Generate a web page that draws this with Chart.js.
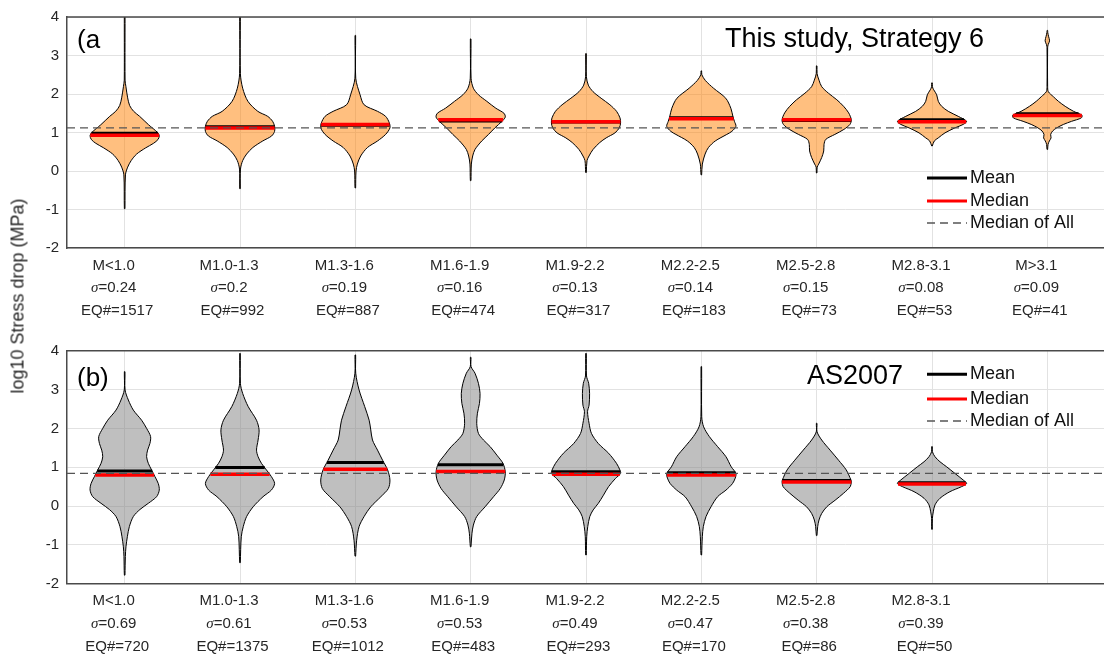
<!DOCTYPE html>
<html>
<head>
<meta charset="utf-8">
<script src="https://cdn.jsdelivr.net/npm/chart.js@4/dist/chart.umd.min.js"></script>
<style>
  html, body { margin: 0; padding: 0; background: #fff; overflow: hidden; }
  #wrap { position: relative; width: 1104px; height: 657px; overflow: hidden; background: #fff; }
  canvas { position: absolute; left: 0; }
  #cA { top: 0; }
  #cB { top: 330px; }
  #ylab {
    position: absolute; left: 18px; top: 296px;
    transform: translate(-50%, -50%) rotate(-90deg);
    font: 18px "Liberation Sans", Arial, sans-serif; color: #262626; white-space: nowrap;
  }
</style>
</head>
<body>
<div id="wrap">
  <canvas id="cA" width="1106" height="330"></canvas>
  <canvas id="cB" width="1106" height="327"></canvas>
  <div id="ylab">log10 Stress drop (MPa)</div>
</div>
<script>
// Magnitude bins
const CATEGORIES = ['M<1.0', 'M1.0-1.3', 'M1.3-1.6', 'M1.6-1.9', 'M1.9-2.2', 'M2.2-2.5', 'M2.5-2.8', 'M2.8-3.1', 'M>3.1'];

// (a) This study, Strategy 6
const SIGMA_A = [0.24, 0.2, 0.19, 0.16, 0.13, 0.14, 0.15, 0.08, 0.09];
const EQ_A = [1517, 992, 887, 474, 317, 183, 73, 53, 41];
const MEAN_A = [0.98, 1.15, 1.19, 1.30, 1.27, 1.38, 1.31, 1.33, 1.49];
const MEDIAN_A = [0.93, 1.12, 1.21, 1.33, 1.28, 1.36, 1.33, 1.28, 1.44];
const MEDIAN_ALL_A = 1.12;
// density profiles: [log10 stress drop, relative density]
const DENSITY_A = [
  [[-0.98,0.3],[-0.1,0.8],[0.1,3],[0.27,6.5],[0.44,12],[0.6,21],[0.72,29],[0.82,33.5],[0.92,34.7],[1.0,33],[1.2,24],[1.42,15],[1.55,9],[1.7,5],[1.9,3],[2.2,1.2],[2.36,0.4],[4.3,0.3]],
  [[-0.46,0.3],[0.05,0.5],[0.27,2.7],[0.44,6.7],[0.61,13],[0.78,23],[0.91,32],[1.03,35],[1.16,35],[1.29,33],[1.42,28],[1.55,18],[1.81,8],[2.15,2.7],[2.53,0.4],[4.3,0.3]],
  [[-0.44,0.3],[0.0,0.7],[0.18,2],[0.39,5.3],[0.61,12],[0.78,22],[0.95,30],[1.12,34.3],[1.25,33.7],[1.42,30],[1.55,22],[1.72,8.7],[1.98,4.7],[2.41,0.4],[3.52,0.3]],
  [[-0.25,0.3],[0.18,0.7],[0.39,2],[0.56,4.3],[0.78,11],[0.95,17.7],[1.12,24],[1.29,31],[1.4,34.3],[1.5,33],[1.63,25],[1.81,16],[1.98,7.7],[2.15,2.7],[2.41,0.4],[3.43,0.3]],
  [[-0.04,0.3],[0.27,1],[0.39,3],[0.56,7],[0.74,13.7],[0.86,20],[0.99,28.7],[1.12,33],[1.25,34.3],[1.38,33.7],[1.55,30.3],[1.72,23.7],[1.89,15],[2.06,7],[2.23,2.3],[2.45,0.4],[3.05,0.3]],
  [[-0.1,0.3],[0.18,1],[0.44,3.7],[0.61,7],[0.78,13.7],[0.95,25],[1.03,30],[1.16,34],[1.29,32.5],[1.42,31],[1.63,29],[1.89,24],[2.15,12],[2.35,4],[2.5,0.5],[2.6,0.3]],
  [[-0.05,0.3],[0.1,0.5],[0.18,2],[0.35,5],[0.52,7],[0.69,7.3],[0.82,9],[0.95,18],[1.08,27],[1.21,33],[1.33,34.3],[1.51,31.7],[1.68,26.7],[1.85,20],[2.02,11.7],[2.19,5],[2.36,2.3],[2.53,0.4],[2.73,0.3]],
  [[0.65,0.3],[0.78,2.3],[0.86,6.3],[0.99,13],[1.12,23],[1.21,31.3],[1.29,34.7],[1.42,26.3],[1.55,16.3],[1.68,9.7],[1.81,6.3],[1.98,4.7],[2.11,1.7],[2.19,0.4],[2.29,0.3]],
  [[0.56,0.3],[0.69,0.7],[0.78,2],[0.86,3.7],[0.95,3.3],[1.04,5.3],[1.12,9.3],[1.21,16],[1.29,24],[1.38,33.7],[1.45,34.3],[1.55,26],[1.68,17.7],[1.81,11],[1.93,6],[2.06,1],[2.2,0.3],[3.2,0.3],[3.28,0.8],[3.38,2.2],[3.5,1.2],[3.6,0.4],[3.65,0.3]]
];

// (b) AS2007
const SIGMA_B = [0.69, 0.61, 0.53, 0.53, 0.49, 0.47, 0.38, 0.39];
const EQ_B = [720, 1375, 1012, 483, 293, 170, 86, 50];
const MEAN_B = [0.90, 0.99, 1.12, 1.06, 0.88, 0.86, 0.66, 0.60];
const MEDIAN_B = [0.80, 0.82, 0.95, 0.89, 0.82, 0.80, 0.62, 0.57];
const MEDIAN_ALL_B = 0.84;
const DENSITY_B = [
  [[-1.78,0.3],[-1.3,0.7],[-1.05,1.3],[-0.79,2.7],[-0.53,4.7],[-0.27,8.7],[-0.09,15.3],[0.07,23.7],[0.24,32],[0.41,34.7],[0.58,33.7],[0.76,30.3],[0.93,27],[1.1,23.7],[1.27,22],[1.44,23],[1.61,25.3],[1.79,26],[2.0,22],[2.21,17],[2.47,8.7],[2.73,3.7],[2.99,0.4],[3.46,0.3]],
  [[-1.46,0.3],[-0.79,1.3],[-0.53,3.3],[-0.27,6.7],[-0.02,13.3],[0.24,23.3],[0.41,31.7],[0.58,35],[0.76,31.7],[0.93,26.7],[1.1,21.7],[1.27,18.3],[1.44,16.7],[1.7,18.3],[1.96,19.3],[2.21,16.7],[2.56,8.3],[2.9,2.7],[3.16,0.4],[3.93,0.3]],
  [[-1.29,0.3],[-0.88,1.3],[-0.53,3.7],[-0.27,8.7],[-0.02,15.3],[0.24,25.3],[0.45,32.7],[0.67,34.3],[0.93,32],[1.18,27],[1.44,22],[1.7,17],[1.96,15.3],[2.21,13.7],[2.56,9.3],[2.99,3.7],[3.42,0.4],[3.89,0.3]],
  [[-1.05,0.3],[-0.7,1.3],[-0.49,2.7],[-0.27,6],[-0.02,14.3],[0.24,22.7],[0.45,29.3],[0.67,33.3],[0.88,34.3],[1.1,32],[1.31,26],[1.53,19.3],[1.7,12.7],[1.87,7.7],[2.13,6],[2.39,6.7],[2.64,8.7],[2.9,9.3],[3.16,7.7],[3.42,4.3],[3.59,0.4],[3.83,0.3]],
  [[-1.26,0.3],[-0.79,0.7],[-0.53,1.7],[-0.27,3.7],[-0.1,7],[0.07,12],[0.28,17],[0.5,22],[0.71,28.7],[0.84,33.7],[0.93,33],[1.1,29.7],[1.36,22],[1.61,12],[1.87,5.3],[2.13,3],[2.43,1.5],[2.6,3],[2.9,3.5],[3.16,2.6],[3.35,0.5],[3.93,0.3]],
  [[-1.26,0.3],[-0.79,1],[-0.53,2],[-0.27,4.7],[-0.02,9.7],[0.24,16.3],[0.41,24.7],[0.58,31.3],[0.72,34],[0.84,34.7],[1.01,30],[1.27,24.7],[1.53,16.3],[1.79,8],[2.04,2.3],[2.3,0.4],[3.59,0.3]],
  [[-0.76,0.3],[-0.53,1],[-0.36,2.3],[-0.19,5],[-0.02,10],[0.15,18.3],[0.33,26.7],[0.5,33.3],[0.62,34.3],[0.67,34],[0.93,29.3],[1.18,21.7],[1.44,13.3],[1.7,5],[1.91,0.4],[2.13,0.3]],
  [[-0.6,0.3],[-0.32,0.4],[-0.15,1.3],[0.03,3],[0.2,8],[0.37,18],[0.5,29.7],[0.58,34.7],[0.67,31.3],[0.84,23],[1.01,14.7],[1.14,8],[1.27,3],[1.4,0.4],[1.53,0.3]]
];

const FONT = '"Liberation Sans", Arial, Helvetica, sans-serif';
const SERIF = '"Liberation Serif", "DejaVu Serif", serif';
const VIOLIN_HALF = 0.3;   // max half-width of a violin in category units
const TEXT = '#262626';

Chart.defaults.font.family = FONT;

// relative half-width of a violin at a given value
function halfWidthAt(profile, v) {
  const maxW = Math.max(...profile.map(p => p[1]));
  for (let k = 0; k < profile.length - 1; k++) {
    const [y0, w0] = profile[k], [y1, w1] = profile[k + 1];
    if (v >= y0 && v <= y1) {
      const t = (v - y0) / (y1 - y0);
      return VIOLIN_HALF * (w0 + t * (w1 - w0)) / maxW;
    }
  }
  return 0;
}

// frame, titles, legend and multi-line category labels
const decorPlugin = {
  id: 'decor',
  afterDraw(chart, args, o) {
    const { ctx, chartArea: a } = chart;
    const xs = chart.scales.x;
    ctx.save();
    // top and right frame edges
    ctx.strokeStyle = '#4a4a4a';
    ctx.lineWidth = 1.5;
    ctx.beginPath();
    ctx.moveTo(a.left, a.top); ctx.lineTo(a.right, a.top); ctx.lineTo(a.right, a.bottom);
    ctx.stroke();

    // panel titles
    ctx.fillStyle = '#000';
    ctx.textBaseline = 'middle';
    ctx.textAlign = 'left';
    ctx.font = '26px ' + FONT;
    ctx.fillText(o.tag, o.tagX, o.tagY);
    ctx.font = '27px ' + FONT;
    ctx.fillText(o.title, o.titleX, o.titleY);

    // legend
    const rows = [
      { label: 'Mean', color: '#000', width: 3, dash: [] },
      { label: 'Median', color: '#ff0000', width: 3, dash: [] },
      { label: 'Median of All', color: '#555', width: 1.3, dash: [8, 5] }
    ];
    ctx.font = '18px ' + FONT;
    rows.forEach((r, k) => {
      const y = o.legendY[k];
      ctx.strokeStyle = r.color;
      ctx.lineWidth = r.width;
      ctx.setLineDash(r.dash);
      ctx.beginPath();
      ctx.moveTo(o.legendX, y); ctx.lineTo(o.legendX + 40, y);
      ctx.stroke();
      ctx.setLineDash([]);
      ctx.fillStyle = '#111';
      ctx.fillText(r.label, o.legendX + 43, y);
    });

    // category labels: bin, sigma, event count
    o.sigma.forEach((s, i) => {
      const x = xs.getPixelForValue(i + 1);
      const y0 = a.bottom;
      ctx.fillStyle = TEXT;
      ctx.textAlign = 'center';
      ctx.font = '15px ' + FONT;
      ctx.fillText(CATEGORIES[i], x - 11, y0 + 17.5);
      ctx.fillText('EQ#=' + o.eq[i], x - 7.5, y0 + 63);
      ctx.textAlign = 'left';
      ctx.font = 'italic 15px ' + SERIF;
      const wS = ctx.measureText('σ').width;
      ctx.font = '15px ' + FONT;
      const rest = '=' + s;
      const wR = ctx.measureText(rest).width;
      const sx = x - 11 - (wS + wR) / 2;
      ctx.font = 'italic 15px ' + SERIF;
      ctx.fillText('σ', sx, y0 + 40.3);
      ctx.font = '15px ' + FONT;
      ctx.fillText(rest, sx + wS, y0 + 40.3);
    });
    ctx.restore();
  }
};

function makePanel(canvasId, p) {
  const datasets = [];
  p.density.forEach((prof, i) => {
    const c = i + 1;
    const maxW = Math.max(...prof.map(q => q[1]));
    const right = prof.map(([y, w]) => ({ x: c + VIOLIN_HALF * w / maxW, y }));
    const left = prof.slice().reverse().map(([y, w]) => ({ x: c - VIOLIN_HALF * w / maxW, y }));
    datasets.push({
      data: right.concat(left, [right[0]]),
      showLine: true, fill: 'shape', tension: 0.3,
      backgroundColor: p.fill, borderColor: '#000', borderWidth: 1,
      pointRadius: 0, order: 3
    });
    const hm = halfWidthAt(prof, p.mean[i]);
    datasets.push({
      data: [{ x: c - hm, y: p.mean[i] }, { x: c + hm, y: p.mean[i] }],
      showLine: true, borderColor: '#000', borderWidth: 3, pointRadius: 0, order: 2
    });
    const hd = halfWidthAt(prof, p.median[i]);
    datasets.push({
      data: [{ x: c - hd, y: p.median[i] }, { x: c + hd, y: p.median[i] }],
      showLine: true, borderColor: '#ff0000', borderWidth: 3.5, pointRadius: 0, order: 1
    });
  });
  datasets.push({
    data: [{ x: 0.5, y: p.medianAll }, { x: 9.5, y: p.medianAll }],
    showLine: true, borderColor: '#555', borderWidth: 1.3, borderDash: [8, 5],
    pointRadius: 0, order: 0
  });

  const canvas = document.getElementById(canvasId);
  return new Chart(canvas, {
    type: 'scatter',
    data: { datasets },
    options: {
      responsive: false,
      devicePixelRatio: 1,
      animation: false,
      layout: { padding: { top: p.padTop, right: 1, left: 0, bottom: 0 } },
      plugins: {
        legend: { display: false },
        tooltip: { enabled: false },
        decor: p.decor
      },
      scales: {
        x: {
          type: 'linear', min: 0.5, max: 9.5,
          afterBuildTicks(s) { s.ticks = CATEGORIES.map((_, i) => ({ value: i + 1 })); },
          afterFit(s) { s.height = p.xHeight; },
          ticks: { display: false },
          grid: { color: '#e2e2e2', lineWidth: 1, drawTicks: false },
          border: { display: true, color: '#4a4a4a', width: 1.5 }
        },
        y: {
          min: -2, max: 4,
          afterFit(s) { s.width = 67; },
          ticks: { stepSize: 1, color: TEXT, font: { size: 15 }, padding: 8 },
          grid: { color: '#e2e2e2', lineWidth: 1, drawTicks: false },
          border: { display: true, color: '#4a4a4a', width: 1.5 }
        }
      }
    },
    plugins: [decorPlugin]
  });
}

makePanel('cA', {
  density: DENSITY_A, mean: MEAN_A, median: MEDIAN_A, medianAll: MEDIAN_ALL_A,
  fill: 'rgba(255,128,0,0.5)', padTop: 14.7, xHeight: 82,
  decor: {
    tag: '(a', tagX: 77, tagY: 41,
    title: 'This study, Strategy 6', titleX: 725, titleY: 40,
    legendX: 927, legendY: [178, 201, 223],
    sigma: SIGMA_A, eq: EQ_A
  }
});

makePanel('cB', {
  density: DENSITY_B, mean: MEAN_B, median: MEDIAN_B, medianAll: MEDIAN_ALL_B,
  fill: 'rgba(128,128,128,0.5)', padTop: 20.7, xHeight: 73.3,
  decor: {
    tag: '(b)', tagX: 77, tagY: 49,
    title: 'AS2007', titleX: 807, titleY: 47,
    legendX: 927, legendY: [44.3, 69, 91],
    sigma: SIGMA_B, eq: EQ_B
  }
});
</script>
</body>
</html>
